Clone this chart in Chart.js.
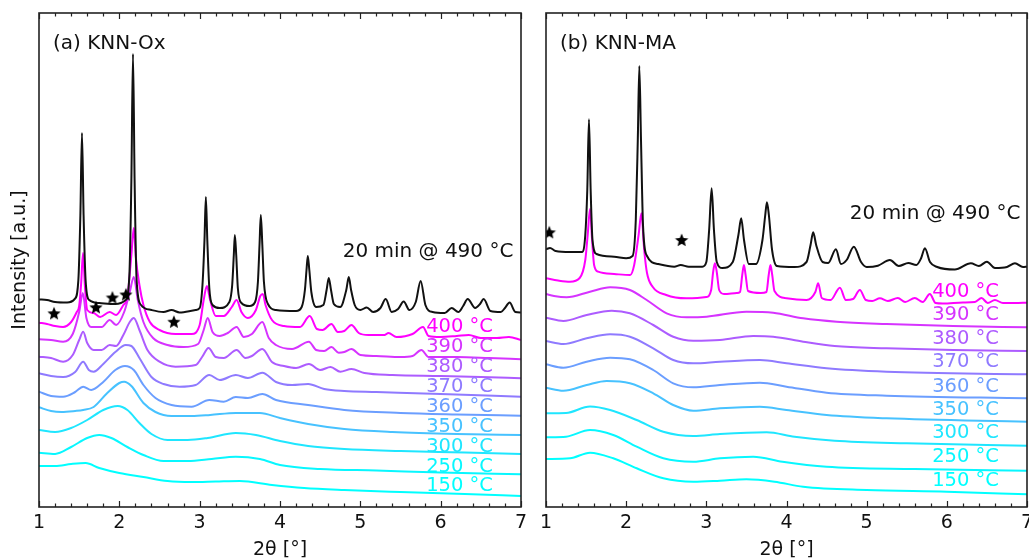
<!DOCTYPE html>
<html>
<head>
<meta charset="utf-8">
<script src="https://cdn.jsdelivr.net/npm/chart.js@4.4.0/dist/chart.umd.min.js"></script>
<style>
  body { margin: 0; background: #fff; }
  #wrap { position: relative; width: 1029px; height: 560px; overflow: hidden; }
  canvas { position: absolute; top: 0; }
  #oxChart { left: 0; }
  #maChart { left: 530px; }
</style>
</head>
<body>
<div id="wrap">
  <canvas id="oxChart" width="530" height="560"></canvas>
  <canvas id="maChart" width="520" height="560"></canvas>
</div>
<script>
// XRD patterns, 2theta [deg] vs intensity [a.u.], curves stacked

const xTicks = [1, 2, 3, 4, 5, 6, 7];
const tempLabels = ['400 °C', '390 °C', '380 °C', '370 °C', '360 °C', '350 °C', '300 °C', '250 °C', '150 °C'];
const tempColors = ['#ff00ff', '#d633ff', '#ad5cff', '#8f7aff', '#6b9eff', '#47c2ff', '#1fe6ff', '#08f7ff', '#00ffff'];

// (a) KNN-Ox
const oxFinal = [[1.00,207.5],[1.10,207],[1.20,205],[1.35,204.5],[1.445,208],[1.49,227],[1.515,292],[1.535,374],[1.555,292],[1.58,227],[1.625,207],
  [1.75,204],[1.95,203],[2.08,207],[2.125,232],[2.15,327],[2.17,453],[2.19,327],[2.215,227],[2.27,202],[2.40,197],[2.55,195],[2.65,197],[2.75,194.5],
  [2.95,197],[3.00,199],[3.035,222],[3.06,267],[3.077,310],[3.095,267],[3.12,219],[3.16,202],[3.25,199],[3.37,205],[3.405,222],[3.425,252],[3.438,272],
  [3.455,252],[3.475,219],[3.52,204],[3.62,201],[3.69,205],[3.725,225],[3.745,262],[3.761,292],[3.78,262],[3.80,225],[3.85,203],[3.95,197],[4.20,196],
  [4.27,200],[4.31,217],[4.33,237],[4.346,251],[4.365,237],[4.39,215],[4.45,200],[4.54,202],[4.58,217],[4.607,229],[4.635,217],[4.67,203],[4.75,200],
  [4.825,217],[4.856,230],[4.885,217],[4.93,202],[5.00,197],[5.08,199.5],[5.16,195],[5.25,199],[5.316,208],[5.39,195],[5.47,198],[5.54,205.5],[5.61,197],
  [5.69,205],[5.751,226],[5.81,202],[5.90,195],[6.05,194],[6.137,199],[6.22,195],[6.28,201],[6.336,208],[6.43,199],[6.49,203],[6.535,208],[6.62,196],
  [6.75,195],[6.80,199],[6.858,204.5],[6.93,195],[7.00,194.5]];
const ox400 = [[1.00,184.3],[1.10,183],[1.20,181],[1.30,180],[1.40,185],[1.47,195],[1.50,201],[1.525,224],[1.548,254],[1.572,220],[1.60,197],[1.68,194],
  [1.76,190],[1.88,195],[1.96,192],[2.05,202],[2.10,210],[2.15,252],[2.18,279],[2.205,250],[2.25,222],[2.30,202],[2.38,185],[2.50,177],[2.70,173],
  [2.90,173],[3.00,182],[3.05,207],[3.09,221],[3.13,207],[3.20,191],[3.30,191],[3.40,200],[3.46,207],[3.52,195],[3.60,189],[3.70,197],[3.755,211],
  [3.786,213],[3.82,202],[3.90,187],[4.05,181],[4.25,180],[4.37,191],[4.46,178],[4.53,177],[4.64,183],[4.72,175],[4.80,176],[4.89,182],[4.98,174],
  [5.10,172],[5.30,172],[5.35,174],[5.45,170],[5.65,173],[5.78,180],[5.85,171],[6.00,170],[6.20,171],[6.35,172],[6.50,169],[6.70,169],[6.85,170],[7.00,167]];
const ox390 = [[1.00,167.7],[1.15,167],[1.30,165.3],[1.42,173],[1.50,195],[1.545,214],[1.59,189],[1.65,180],[1.78,180],[1.88,187],[1.96,182],[2.06,195],
  [2.13,215],[2.18,230],[2.23,207],[2.30,185],[2.42,169],[2.60,162],[2.80,160],[2.98,163],[3.05,177],[3.10,189],[3.16,175],[3.25,171],[3.35,174],
  [3.46,180],[3.55,170],[3.65,173],[3.78,185],[3.86,169],[3.95,162],[4.15,158],[4.36,165.3],[4.45,157],[4.55,156],[4.64,160],[4.73,154.3],[4.80,155],
  [4.89,158],[5.00,152],[5.20,151],[5.50,150],[5.65,151],[5.76,157],[5.85,150],[6.20,150],[6.60,149],[7.00,147.7]];
const ox380 = [[1.00,150.3],[1.15,149],[1.30,145.3],[1.42,152],[1.50,167],[1.55,175.3],[1.60,164],[1.68,157],[1.78,157],[1.88,162],[1.96,161],[2.05,172],
  [2.13,185],[2.18,189],[2.25,177],[2.35,157],[2.50,145.3],[2.70,140.3],[2.95,142],[3.03,150],[3.11,159],[3.20,150],[3.30,149],[3.46,157],[3.57,149],
  [3.65,151],[3.78,158],[3.90,145],[4.05,141],[4.20,139],[4.36,143],[4.50,137],[4.63,140],[4.75,135.3],[4.89,138],[5.05,134],[5.40,132],[6.00,131],
  [6.50,130],[7.00,128.7]];
const ox370 = [[1.00,133.7],[1.15,131],[1.30,130],[1.45,135],[1.55,145.3],[1.62,137],[1.68,135.3],[1.80,143],[1.95,155],[2.08,162],[2.15,161],[2.25,149],
  [2.40,130],[2.55,123],[2.75,120.3],[2.95,122],[3.12,132],[3.25,127],[3.45,132],[3.60,129],[3.78,134.3],[3.95,125],[4.15,122],[4.35,123],[4.55,118],
  [4.80,116],[5.20,115],[6.00,113],[7.00,110.3]];
const ox360 = [[1.00,115.3],[1.15,111],[1.30,110.3],[1.45,115],[1.55,120.3],[1.65,117],[1.80,125],[1.95,137],[2.07,141],[2.18,137],[2.30,122],[2.45,109],
  [2.65,102],[2.90,100.3],[3.12,107],[3.30,105.3],[3.45,110],[3.60,109],[3.78,113],[3.95,107],[4.35,102],[4.80,97],[5.50,94],[6.20,92.5],[7.00,91.3]];
const ox350 = [[1.00,99.7],[1.15,96],[1.28,95],[1.45,96],[1.55,97],[1.68,100],[1.85,114],[2.00,124],[2.06,125.3],[2.15,121],[2.30,104],[2.45,95],
  [2.65,91],[2.90,91],[3.13,92],[3.45,94],[3.75,94],[4.00,89],[4.35,83],[4.80,78],[5.40,75],[6.20,73],[7.00,72]];
const ox300 = [[1.00,77],[1.20,75],[1.40,79],[1.60,87],[1.80,97],[1.98,101],[2.10,97],[2.25,84],[2.40,73],[2.60,67],[2.85,67],[3.10,69],[3.45,74],
  [3.70,72],[4.00,66],[4.35,61],[4.80,58],[5.50,56],[6.30,54.5],[7.00,53]];
const ox250 = [[1.00,54.3],[1.20,53],[1.40,60],[1.60,69],[1.75,72],[1.90,69],[2.10,60],[2.30,52],[2.55,46],[2.85,46],[3.15,48],[3.45,50.3],[3.75,48],
  [4.00,42],[4.50,38],[5.20,36.5],[6.00,34.5],[7.00,32.7]];
const ox150 = [[1.00,41],[1.20,41],[1.40,43],[1.58,44],[1.75,39],[2.00,34],[2.30,30],[2.60,26],[2.90,25],[3.20,25.5],[3.50,26],[3.90,22],[4.30,19],
  [4.80,17],[5.50,15],[6.30,13],[7.00,11]];
const oxStars = [[1.187,193.7],[1.709,199.7],[1.914,209.5],[2.082,212.5],[2.679,185.3]];

// (b) KNN-MA
const maFinal = [[1.00,257.7],[1.05,259],[1.12,256],[1.30,255],[1.45,255],[1.49,272],[1.515,317],[1.536,387.7],[1.557,317],[1.58,267],[1.63,253],
  [1.85,250.3],[2.00,248.7],[2.08,251],[2.12,287],[2.145,367],[2.164,441],[2.185,367],[2.21,282],[2.26,251],[2.40,243],[2.60,240.3],[2.68,242],
  [2.78,240.3],[2.95,240.3],[3.00,245],[3.035,277],[3.066,318.7],[3.095,277],[3.13,245],[3.20,239],[3.33,245],[3.40,272],[3.435,288.7],[3.47,267],
  [3.53,243],[3.62,243],[3.70,267],[3.735,292],[3.756,304.7],[3.78,292],[3.82,257],[3.88,241],[4.10,240],[4.25,245],[4.30,262],[4.333,274.7],[4.37,262],
  [4.45,245],[4.52,244],[4.616,257.7],[4.68,243],[4.75,247],[4.84,260.3],[4.93,245],[5.00,240],[5.14,241.3],[5.29,247],[5.40,241],[5.52,244],[5.62,242],
  [5.68,249],[5.726,258.7],[5.79,245],[5.88,240],[6.10,237.5],[6.30,243.7],[6.40,241],[6.50,245.3],[6.60,239],[6.75,240],[6.85,243.7],[6.95,240],[7.00,240.3]];
const ma400 = [[1.00,228.7],[1.15,226.5],[1.30,225.3],[1.42,229],[1.49,247],[1.52,272],[1.549,298],[1.575,267],[1.60,242],[1.65,235.3],[1.85,233],
  [2.05,232],[2.10,242],[2.155,272],[2.19,293.7],[2.225,257],[2.26,234],[2.33,220.3],[2.50,212],[2.75,208.7],[3.00,210],[3.06,217],[3.085,235],
  [3.107,243.7],[3.13,235],[3.16,217],[3.22,213],[3.38,214],[3.42,215],[3.448,232],[3.469,242],[3.49,232],[3.52,216],[3.68,214],[3.75,215],[3.778,232],
  [3.80,242],[3.822,232],[3.85,216],[4.00,208.7],[4.25,207],[4.36,215],[4.395,223.7],[4.44,209],[4.55,207],[4.666,219.3],[4.74,207],[4.83,208],
  [4.915,217],[4.99,207],[5.07,206],[5.165,208.7],[5.264,206],[5.389,209],[5.48,205],[5.60,209],[5.70,205],[5.788,213],[5.86,204],[5.95,203.5],
  [6.20,204.5],[6.35,205],[6.433,209],[6.51,204],[6.60,207],[6.70,204],[6.85,204],[7.00,204.3]];
const ma390 = [[1.00,213],[1.10,211],[1.258,209.7],[1.549,215.3],[1.80,219.7],[2.047,217],[2.256,207],[2.505,193.7],[2.754,189.7],[3.004,190.3],
  [3.50,195.3],[3.834,194.3],[4.208,188.7],[4.625,185.3],[5.248,183],[6.078,181],[7.00,179.7]];
const ma380 = [[1.00,189.3],[1.216,186],[1.507,192],[1.82,196.3],[2.047,193.7],[2.338,182],[2.587,170.3],[2.837,166.3],[3.17,167],[3.585,171],
  [3.834,170.3],[4.208,165.3],[4.60,161],[5.248,158.7],[6.078,157],[7.00,156]];
const ma370 = [[1.00,166],[1.216,163],[1.507,168.7],[1.80,172.7],[2.047,170.3],[2.338,158.7],[2.587,147],[2.837,143.7],[3.17,145.3],[3.668,147],
  [4.00,143.7],[4.50,138.7],[5.248,135.3],[7.00,132.7]];
const ma360 = [[1.00,142.7],[1.216,139.3],[1.507,145.3],[1.80,149.3],[2.047,147.7],[2.338,137],[2.587,123.7],[2.837,119.7],[3.17,122],[3.668,124.3],
  [4.00,120.3],[4.50,114.3],[5.248,111.3],[7.00,108.7]];
const ma350 = [[1.00,119.3],[1.216,116.3],[1.507,122],[1.757,126],[2.047,123.7],[2.338,113.7],[2.587,102],[2.837,96.3],[3.17,98.7],[3.668,100.3],
  [4.00,97],[4.50,92],[5.248,88.7],[7.00,85.3]];
const ma300 = [[1.00,93.7],[1.25,94],[1.549,100.5],[1.80,97],[2.131,87],[2.463,75.3],[2.837,71],[3.17,73],[3.752,74.7],[4.10,70.3],[4.60,66.3],
  [5.50,63.7],[7.00,61.3]];
const ma250 = [[1.00,69.7],[1.25,70.3],[1.549,77],[1.839,72],[2.131,60.3],[2.463,48.7],[2.837,45.3],[3.17,48.7],[3.585,50.3],[3.95,45.3],[4.50,40.3],
  [5.60,38],[7.00,36.3]];
const ma150 = [[1.00,48],[1.30,48.7],[1.549,54.3],[1.839,48.7],[2.131,38.7],[2.463,28.7],[2.837,25.3],[3.17,26.3],[3.50,27.7],[3.85,25.3],[4.208,20.3],
  [5.00,17],[6.00,15.3],[7.00,12.7]];
const maStars = [[1.041,274.7],[2.692,267]];

Chart.defaults.font.family = '"DejaVu Sans", sans-serif';
Chart.defaults.color = '#111';

// filled five-point star used as marker
function starIcon(r) {
  const c = document.createElement('canvas');
  const s = Math.ceil(r * 2 + 2);
  c.width = c.height = s;
  const g = c.getContext('2d');
  g.beginPath();
  for (let k = 0; k < 10; k++) {
    const rad = k % 2 ? r * 0.45 : r;
    const ang = -Math.PI / 2 + k * Math.PI / 5;
    g.lineTo(s / 2 + rad * Math.cos(ang), s / 2 + 0.6 + rad * Math.sin(ang));
  }
  g.closePath();
  g.fillStyle = '#000';
  g.fill();
  return c;
}
const star = starIcon(7);

// frame, inward ticks and text labels
const panelDeco = {
  id: 'panelDeco',
  afterDatasetsDraw(chart, args, o) {
    const {ctx, chartArea: a, scales: {x, y}} = chart;
    ctx.save();
    ctx.strokeStyle = '#222';
    ctx.lineWidth = 1.2;
    ctx.beginPath();
    for (let i = 0; i <= 30; i++) {
      const px = Math.round(x.getPixelForValue(1 + i * 0.2)) + 0.5;
      const len = i % 5 === 0 ? 6 : 3.5;
      ctx.moveTo(px, a.bottom); ctx.lineTo(px, a.bottom - len);
      ctx.moveTo(px, a.top); ctx.lineTo(px, a.top + len);
    }
    ctx.stroke();
    ctx.lineWidth = 1.6;
    ctx.strokeRect(a.left, a.top, a.right - a.left, a.bottom - a.top);

    ctx.textAlign = 'left';
    ctx.textBaseline = 'middle';
    ctx.font = '19.5px "DejaVu Sans"';
    tempLabels.forEach((t, i) => {
      ctx.fillStyle = tempColors[i];
      ctx.fillText(t, x.getPixelForValue(o.labelX), y.getPixelForValue(o.labelY[i]));
    });
    ctx.fillStyle = '#111';
    ctx.font = '20px "DejaVu Sans"';
    ctx.fillText(o.note, x.getPixelForValue(o.noteAt[0]), y.getPixelForValue(o.noteAt[1]));
    ctx.fillText(o.title, x.getPixelForValue(o.titleAt[0]), y.getPixelForValue(o.titleAt[1]));
    ctx.restore();
  }
};

function makePanel(id, finalCurve, tempCurves, stars, deco, showY, padRight) {
  const datasets = [{
    data: stars, showLine: false, pointStyle: star, pointRadius: 7, borderWidth: 0
  }, {
    data: finalCurve, borderColor: '#111', borderWidth: 2, pointRadius: 0, cubicInterpolationMode: 'monotone'
  }];
  tempCurves.forEach((c, i) => {
    datasets.push({
      data: c, borderColor: tempColors[i], borderWidth: 2, pointRadius: 0, cubicInterpolationMode: 'monotone'
    });
  });

  return new Chart(document.getElementById(id), {
    type: 'line',
    data: { datasets },
    options: {
      responsive: false,
      animation: false,
      events: [],
      layout: { padding: { left: 0, top: 13, right: padRight, bottom: 0 } },
      plugins: {
        legend: { display: false },
        tooltip: { enabled: false },
        panelDeco: deco
      },
      scales: {
        x: {
          type: 'linear',
          min: 1,
          max: 7,
          afterBuildTicks: s => { s.ticks = xTicks.map(v => ({ value: v })); },
          afterFit: s => { s.height = 53; s.paddingLeft = 0; s.paddingRight = 0; },
          grid: { display: false, drawTicks: false },
          border: { display: false },
          ticks: { padding: 5, font: { size: 19 }, color: '#111', maxRotation: 0 },
          title: { display: true, text: '2θ [°]', font: { size: 19, lineHeight: 1 }, padding: 0, color: '#111' }
        },
        y: {
          min: 0,
          max: 494,
          afterFit: s => { s.width = showY ? 39 : 16; },
          grid: { display: false, drawTicks: false },
          border: { display: false },
          ticks: { display: false },
          title: { display: showY, text: 'Intensity [a.u.]', font: { size: 19 }, padding: { top: 9, bottom: 0 }, color: '#111' }
        }
      }
    },
    plugins: [panelDeco]
  });
}

makePanel('oxChart', oxFinal, [ox400, ox390, ox380, ox370, ox360, ox350, ox300, ox250, ox150], oxStars, {
  labelX: 5.82,
  labelY: [179.7, 159.7, 140.3, 119.7, 100.3, 80.3, 60.3, 40.3, 21],
  note: '20 min @ 490 °C', noteAt: [4.78, 255.3],
  title: '(a) KNN-Ox', titleAt: [1.174, 463.7]
}, true, 9);

makePanel('maChart', maFinal, [ma400, ma390, ma380, ma370, ma360, ma350, ma300, ma250, ma150], maStars, {
  labelX: 5.817,
  labelY: [215.3, 192, 168, 144.7, 120.3, 97, 73.7, 49.7, 26.3],
  note: '20 min @ 490 °C', noteAt: [4.79, 293.7],
  title: '(b) KNN-MA', titleAt: [1.175, 463.7]
}, false, 23);
</script>
</body>
</html>
